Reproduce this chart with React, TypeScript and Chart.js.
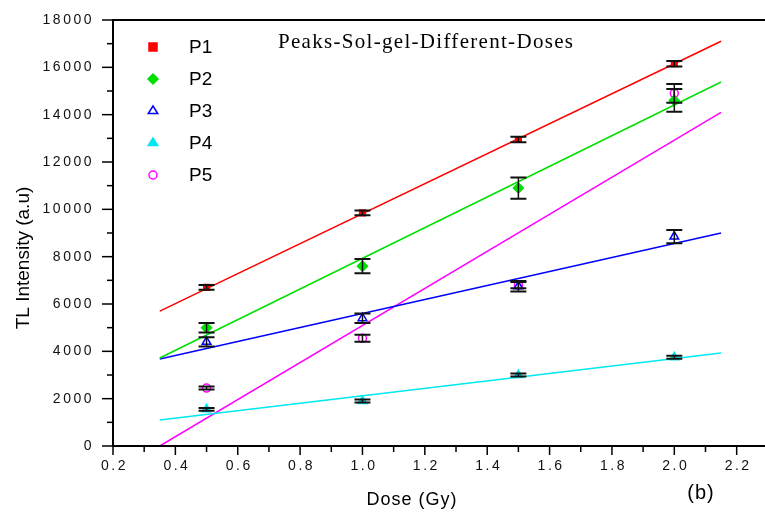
import React, { useEffect, useRef } from "react";
import { Chart, registerables } from "chart.js";

Chart.register(...registerables);

const doses = [0.5, 1.0, 1.5, 2.0];
const p1 = [6700, 9850, 12950, 16150];
const p1Err = [100, 100, 120, 120];
const p2 = [5000, 7600, 10900, 14600];
const p2Err = [200, 300, 450, 480];
const p3 = [4400, 5400, 6750, 8850];
const p3Err = [200, 200, 220, 280];
const p4 = [1550, 1900, 3000, 3750];
const p4Err = [60, 60, 60, 60];
const p5 = [2450, 4550, 6800, 14900];
const p5Err = [60, 150, 130, 400];

const fitDoses = [0.35, 2.15];
const p1Fit = [5700, 17100];
const p2Fit = [3720, 15380];
const p3Fit = [3680, 9000];
const p4Fit = [1100, 3930];
const p5Fit = [0, 14100];

const seriesNames = ["P1", "P2", "P3", "P4", "P5"];
const yTicks = [0, 2000, 4000, 6000, 8000, 10000, 12000, 14000, 16000, 18000];
const xTicks = [0.2, 0.4, 0.6, 0.8, 1.0, 1.2, 1.4, 1.6, 1.8, 2.0, 2.2];
const xTickLabels = ["0.2", "0.4", "0.6", "0.8", "1.0", "1.2", "1.4", "1.6", "1.8", "2.0", "2.2"];

const titleText = "Peaks-Sol-gel-Different-Doses";
const xTitle = "Dose (Gy)";
const yTitle = "TL Intensity (a.u)";
const panelLabel = "(b)";

const colors = ["#ff0000", "#00e000", "#0000ff", "#00e8f0", "#ff00ff"];
const styles: any[] = ["rect", "rectRot", "triangle", "triangle", "circle"];
const radii = [4, 5, 5, 5, 4];
const filled = [true, true, false, true, false];

const values = [p1, p2, p3, p4, p5];
const errs = [p1Err, p2Err, p3Err, p4Err, p5Err];
const fits = [p1Fit, p2Fit, p3Fit, p4Fit, p5Fit];

function drawPointShape(ctx: any, style: string, r: number, x: number, y: number, fill: boolean) {
  ctx.beginPath();
  if (style === "rect") {
    ctx.rect(x - r, y - r, 2 * r, 2 * r);
  } else if (style === "rectRot") {
    ctx.moveTo(x, y - r);
    ctx.lineTo(x + r, y);
    ctx.lineTo(x, y + r);
    ctx.lineTo(x - r, y);
    ctx.closePath();
  } else if (style === "triangle") {
    const h = r * 1.5;
    ctx.moveTo(x, y - r);
    ctx.lineTo(x + r * 0.95, y + h - r);
    ctx.lineTo(x - r * 0.95, y + h - r);
    ctx.closePath();
  } else {
    ctx.arc(x, y, r, 0, Math.PI * 2);
  }
  if (fill) ctx.fill();
  ctx.stroke();
}

const decorPlugin = {
  id: "decor",
  afterDatasetsDraw(chart: any) {
    const ctx = chart.ctx;
    const xs = chart.scales.x;
    const ys = chart.scales.y;
    ctx.save();
    ctx.strokeStyle = "#111";
    for (let s = 0; s < values.length; s++) {
      for (let i = 0; i < doses.length; i++) {
        const px = xs.getPixelForValue(doses[i]);
        const top = ys.getPixelForValue(values[s][i] + errs[s][i]);
        const bot = ys.getPixelForValue(values[s][i] - errs[s][i]);
        ctx.lineWidth = 1.5;
        ctx.beginPath();
        ctx.moveTo(px, top);
        ctx.lineTo(px, bot);
        ctx.stroke();
        ctx.lineWidth = 2;
        ctx.beginPath();
        ctx.moveTo(px - 8, top);
        ctx.lineTo(px + 8, top);
        ctx.moveTo(px - 8, bot);
        ctx.lineTo(px + 8, bot);
        ctx.stroke();
      }
    }
    ctx.restore();
  },
  afterDraw(chart: any) {
    const ctx = chart.ctx;
    const xs = chart.scales.x;
    const ys = chart.scales.y;
    const ca = chart.chartArea;
    const W = chart.width;
    ctx.save();
    ctx.strokeStyle = "#000";
    ctx.fillStyle = "#000";
    ctx.lineWidth = 2;
    ctx.beginPath();
    ctx.moveTo(ca.left, ca.top);
    ctx.lineTo(ca.left, ca.bottom);
    ctx.moveTo(ca.left - 1, ca.bottom);
    ctx.lineTo(W, ca.bottom);
    ctx.moveTo(ca.left - 1, ca.top);
    ctx.lineTo(W, ca.top);
    ctx.stroke();
    ctx.lineWidth = 1.5;
    for (let i = 0; i < yTicks.length; i++) {
      const py = ys.getPixelForValue(yTicks[i]);
      ctx.beginPath();
      ctx.moveTo(ca.left - 11, py);
      ctx.lineTo(ca.left, py);
      ctx.stroke();
      if (i < yTicks.length - 1) {
        const pm = ys.getPixelForValue((yTicks[i] + yTicks[i + 1]) / 2);
        ctx.beginPath();
        ctx.moveTo(ca.left - 6, pm);
        ctx.lineTo(ca.left, pm);
        ctx.stroke();
      }
    }
    for (let i = 0; i < xTicks.length; i++) {
      const px = xs.getPixelForValue(xTicks[i]);
      ctx.beginPath();
      ctx.moveTo(px, ca.bottom);
      ctx.lineTo(px, ca.bottom + 9);
      ctx.stroke();
      if (i < xTicks.length - 1) {
        const pm = xs.getPixelForValue((xTicks[i] + xTicks[i + 1]) / 2);
        ctx.beginPath();
        ctx.moveTo(pm, ca.bottom);
        ctx.lineTo(pm, ca.bottom + 6);
        ctx.stroke();
      }
    }
    ctx.font = '14px "Liberation Sans"';
    (ctx as any).letterSpacing = "2.5px";
    ctx.fillStyle = "#111";
    ctx.textAlign = "right";
    ctx.textBaseline = "middle";
    for (let i = 0; i < yTicks.length; i++) {
      const py = ys.getPixelForValue(yTicks[i]);
      ctx.fillText(String(yTicks[i]), ca.left - 19, py);
    }
    ctx.textAlign = "center";
    for (let i = 0; i < xTicks.length; i++) {
      const px = xs.getPixelForValue(xTicks[i]);
      ctx.fillText(xTickLabels[i], px + 1.5, ca.bottom + 20);
    }
    ctx.fillStyle = "#000";
    (ctx as any).letterSpacing = "1px";
    ctx.font = '18px "Liberation Sans"';
    ctx.textAlign = "center";
    ctx.fillText(xTitle, 412, 500);
    ctx.font = '20px "Liberation Sans"';
    ctx.fillText(panelLabel, 701, 493);
    ctx.save();
    ctx.translate(24, 258);
    ctx.rotate(-Math.PI / 2);
    ctx.font = '19px "Liberation Sans"';
    (ctx as any).letterSpacing = "0px";
    ctx.fillText(yTitle, 0, 0);
    ctx.restore();
    (ctx as any).letterSpacing = "1.3px";
    ctx.font = '21px "Liberation Serif"';
    ctx.textAlign = "left";
    ctx.fillText(titleText, 278, 42);
    (ctx as any).letterSpacing = "0px";
    ctx.font = '19px "Liberation Sans"';
    ctx.textAlign = "left";
    for (let s = 0; s < seriesNames.length; s++) {
      const ly = 47 + s * 32;
      ctx.save();
      ctx.strokeStyle = colors[s];
      ctx.fillStyle = filled[s] ? colors[s] : "rgba(0,0,0,0)";
      ctx.lineWidth = 1.5;
      drawPointShape(ctx, styles[s], radii[s], 153, ly, filled[s]);
      ctx.restore();
      ctx.fillStyle = "#000";
      ctx.fillText(seriesNames[s], 189, ly + 1);
    }
    ctx.restore();
  },
};

export default function App() {
  const ref = useRef<HTMLCanvasElement | null>(null);
  useEffect(() => {
    if (!ref.current) return;
    const datasets: any[] = [];
    for (let s = 0; s < values.length; s++) {
      datasets.push({
        type: "line",
        label: seriesNames[s] + " fit",
        data: fitDoses.map((d, i) => ({ x: d, y: fits[s][i] })),
        borderColor: colors[s],
        borderWidth: 1.5,
        pointRadius: 0,
        fill: false,
        order: 10,
      });
    }
    for (let s = 0; s < values.length; s++) {
      datasets.push({
        type: "scatter",
        label: seriesNames[s],
        data: doses.map((d, i) => ({ x: d, y: values[s][i] })),
        pointStyle: styles[s],
        pointRadius: radii[s],
        pointBackgroundColor: filled[s] ? colors[s] : "rgba(0,0,0,0)",
        pointBorderColor: colors[s],
        pointBorderWidth: 1.5,
        showLine: false,
        order: 1,
      });
    }
    const chart = new Chart(ref.current, {
      type: "scatter",
      data: { datasets },
      options: {
        responsive: false,
        animation: false,
        layout: { padding: { left: 113, top: 20, right: 0, bottom: 69 } },
        plugins: { legend: { display: false }, tooltip: { enabled: false }, title: { display: false } },
        scales: {
          x: { type: "linear", display: false, min: 0.2, max: 2.27 },
          y: { type: "linear", display: false, min: 0, max: 18000 },
        },
      } as any,
      plugins: [decorPlugin],
    });
    return () => chart.destroy();
  }, []);
  return (
    <div style={{ position: "fixed", left: 0, top: 0, width: 765, height: 515, background: "#fff" }}>
      <canvas ref={ref} width={765} height={515} />
    </div>
  );
}
